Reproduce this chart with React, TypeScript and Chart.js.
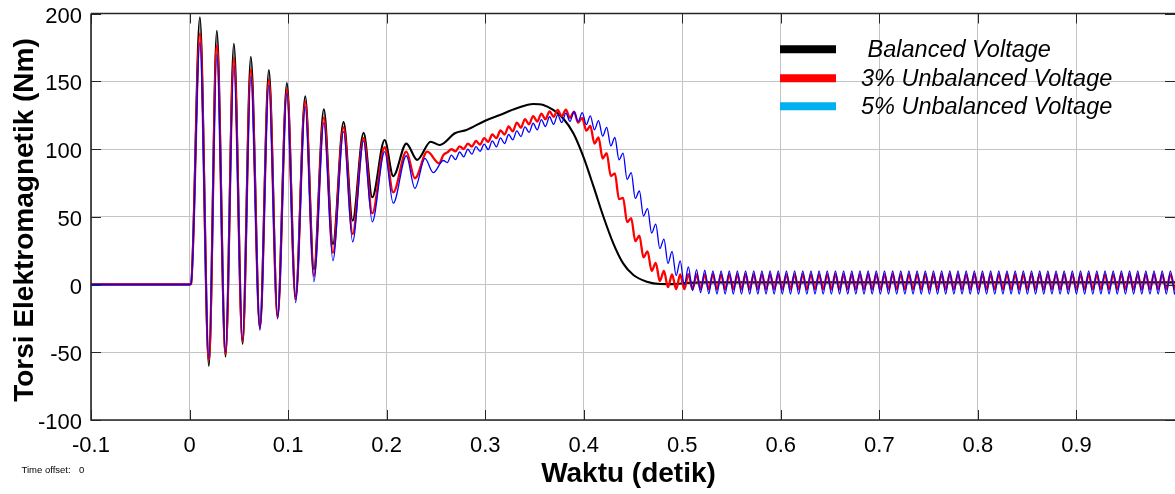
import React, { useEffect, useRef } from 'react';
import { Chart, registerables } from 'chart.js';

Chart.register(...registerables);

const FONT = "'Liberation Sans', Arial, Helvetica, sans-serif";

// Axis ticks
const X_TICK_VALUES = [-0.1, 0, 0.1, 0.2, 0.3, 0.4, 0.5, 0.6, 0.7, 0.8, 0.9, 1.0];
const X_TICK_LABELS = ['-0.1', '0', '0.1', '0.2', '0.3', '0.4', '0.5', '0.6', '0.7', '0.8', '0.9', ''];
const Y_TICK_VALUES = [-100, -50, 0, 50, 100, 150, 200];
const Y_TICK_LABELS = ['-100', '-50', '0', '50', '100', '150', '200'];

const X_TITLE = 'Waktu (detik)';
const Y_TITLE = 'Torsi Elektromagnetik (Nm)';
const TIME_OFFSET_LABEL = 'Time offset:';
const TIME_OFFSET_VALUE = '0';

const SERIES_NAMES = [' Balanced Voltage', '3% Unbalanced Voltage', '5% Unbalanced Voltage'];

// Balanced voltage (black): key points (time s, torque Nm)
const BLACK_T = [
  -0.1, 0, 0.0015, 0.0105, 0.0196, 0.0277, 0.0365, 0.045, 0.0538, 0.0622,
  0.0714, 0.0805, 0.0893, 0.0988, 0.1076, 0.1174, 0.1262, 0.1363, 0.1455, 0.1563,
  0.1655, 0.1766, 0.1854, 0.198, 0.2067, 0.22, 0.231, 0.2447, 0.254, 0.2693,
  0.281, 0.3, 0.315, 0.332, 0.3488, 0.359, 0.369, 0.379, 0.3895, 0.3996,
  0.41, 0.42, 0.43, 0.44, 0.4504, 0.464, 0.4775, 0.49, 0.505, 0.52, 1.0,
];
const BLACK_V = [
  0, 0, 0.5, 197.2, -60.1, 187.3, -53.3, 177.7, -43.9, 168.1,
  -31.5, 158.3, -23.2, 148.7, -9, 138.9, 11.2, 129.3, 29.9, 119.9,
  47.1, 112, 64.4, 106.6, 80, 104, 92, 105.4, 103, 111.6,
  114, 120.9, 125.1, 130, 133.2, 132.5, 128.8, 122.7, 111.6, 94.3,
  72.2, 50, 30.4, 15.6, 7, 2.1, 0.4, 0.3, 1.2, 1.6, 1.6,
];

// 3% unbalanced (red): start-up transient key points
const RED_T = [
  -0.1, 0, 0.0015, 0.0105, 0.0196, 0.0277, 0.0365, 0.045, 0.0538, 0.0622,
  0.0714, 0.0805, 0.0893, 0.0988, 0.1076, 0.1174, 0.1262, 0.1363, 0.1455, 0.1563,
  0.1655, 0.1766, 0.1854, 0.198, 0.2067, 0.22, 0.2287, 0.2412, 0.2534,
];
const RED_V = [
  0, 0, 0.5, 185.4, -55.7, 176.2, -50.8, 167.4, -42.2, 158.8,
  -32.5, 151.4, -24.5, 144, -11, 134.9, 6.3, 123.1, 23.5, 116,
  37.3, 108, 52.5, 101.3, 68, 98, 78.4, 98, 89.4,
];

// 5% unbalanced (blue): start-up transient key points
const BLUE_T = [
  -0.1, 0, 0.0015, 0.0105, 0.0196, 0.0277, 0.0365, 0.045, 0.0538, 0.0622,
  0.0714, 0.0805, 0.0893, 0.0988, 0.1076, 0.1174, 0.1262, 0.1363, 0.1455, 0.1563,
  0.1655, 0.1766, 0.1854, 0.198, 0.2067, 0.22, 0.2287, 0.2389, 0.2473,
];
const BLUE_V = [
  0, 0, 0.5, 178.7, -54.5, 169.9, -49.6, 161.3, -41, 153.6,
  -33.6, 147.2, -25.5, 141.1, -13.4, 131.2, 2.1, 119.4, 17.6, 112.8,
  31.4, 106, 46.3, 98, 60, 95, 71, 93.1, 82.5,
];

// Ripple / steady-state extremes (peaks and troughs) shared time stamps
const RIPPLE_T = [
  0.2575, 0.2616, 0.2658, 0.2699, 0.2741, 0.2782, 0.2824, 0.2865, 0.2907, 0.2948,
  0.2990, 0.3031, 0.3072, 0.3114, 0.3155, 0.3197, 0.3238, 0.3280, 0.3321, 0.3363,
  0.3404, 0.3445, 0.3487, 0.3528, 0.3570, 0.3611, 0.3653, 0.3694, 0.3736, 0.3777,
  0.3819, 0.3860, 0.3902, 0.3943, 0.3985, 0.4026, 0.4067, 0.4109, 0.4150, 0.4192,
  0.4233, 0.4275, 0.4316, 0.4358, 0.4399, 0.4440, 0.4482, 0.4523, 0.4565, 0.4606,
  0.4648, 0.4689, 0.4731, 0.4772, 0.4814, 0.4855, 0.4896, 0.4938, 0.4979, 0.5021,
  0.5062, 0.5104, 0.5145, 0.5186, 0.5228, 0.5269, 0.5311, 0.5352, 0.5394, 0.5435,
  0.5477, 0.5518, 0.5559, 0.5601, 0.5642, 0.5684, 0.5725, 0.5767, 0.5808, 0.5850,
  0.5891, 0.5932, 0.5974, 0.6015, 0.6057, 0.6098, 0.6140, 0.6181, 0.6223, 0.6264,
  0.6306, 0.6347, 0.6388, 0.6430, 0.6471, 0.6513, 0.6554, 0.6596, 0.6637, 0.6679,
  0.6720, 0.6761, 0.6803, 0.6844, 0.6886, 0.6927, 0.6969, 0.7010, 0.7052, 0.7093,
  0.7135, 0.7176, 0.7217, 0.7259, 0.7300, 0.7342, 0.7383, 0.7425, 0.7466, 0.7508,
  0.7549, 0.7590, 0.7632, 0.7673, 0.7715, 0.7756, 0.7798, 0.7839, 0.7881, 0.7922,
  0.7964, 0.8005, 0.8046, 0.8088, 0.8129, 0.8171, 0.8212, 0.8254, 0.8295, 0.8337,
  0.8378, 0.8419, 0.8461, 0.8502, 0.8544, 0.8585, 0.8627, 0.8668, 0.8710, 0.8751,
  0.8793, 0.8834, 0.8875, 0.8917, 0.8958, 0.9000, 0.9041, 0.9083, 0.9124, 0.9166,
  0.9207, 0.9248, 0.9290, 0.9331, 0.9373, 0.9414, 0.9456, 0.9497, 0.9539, 0.9580,
  0.9622, 0.9663, 0.9704, 0.9746, 0.9787, 0.9829, 0.9870, 0.9912, 0.9953, 0.9995,
];

const RED_RIPPLE = [
  95.5, 97.5, 99.8, 98.3, 102, 100, 104, 101.8, 105.9, 103.2,
  108, 105.3, 110.7, 108, 113.7, 110.7, 116.6, 113, 119.5, 115.7,
  122.1, 118.2, 124.3, 120.2, 126.1, 122, 127.8, 123.7, 128.8, 124.2,
  129, 123, 127.5, 119.5, 123, 113.5, 117, 104, 108.5, 93,
  97, 80, 82, 63, 64, 46, 49, 32, 36, 20,
  24.5, 10, 16, 2.5, 10, -2, 7.5, -3.5, 7.5, -3.5,
  7.6, -3.6, 7.5, -3.5, 7.5, -3.5, 7.6, -3.5, 7.5, -3.6,
  7.5, -3.5, 7.5, -3.5, 7.6, -3.5, 7.5, -3.5, 7.5, -3.6,
  7.5, -3.5, 7.6, -3.5, 7.5, -3.5, 7.5, -3.5, 7.6, -3.6,
  7.5, -3.5, 7.5, -3.5, 7.5, -3.5, 7.6, -3.5, 7.5, -3.5,
  7.5, -3.6, 7.5, -3.5, 7.6, -3.5, 7.5, -3.5, 7.5, -3.5,
  7.6, -3.5, 7.5, -3.6, 7.5, -3.5, 7.5, -3.5, 7.6, -3.5,
  7.5, -3.5, 7.5, -3.5, 7.6, -3.6, 7.5, -3.5, 7.5, -3.5,
  7.6, -3.5, 7.5, -3.5, 7.5, -3.6, 7.5, -3.5, 7.6, -3.5,
  7.5, -3.5, 7.5, -3.5, 7.6, -3.5, 7.5, -3.6, 7.5, -3.5,
  7.5, -3.5, 7.6, -3.5, 7.5, -3.5, 7.5, -3.5, 7.6, -3.6,
  7.5, -3.5, 7.5, -3.5, 7.5, -3.5, 7.6, -3.5, 7.5, -3.5,
  7.5, -3.6, 7.5, -3.5, 7.6, -3.5, 7.5, -3.5, 7.5, -3.5,
];

const BLUE_RIPPLE = [
  91.5, 90, 95.5, 92.2, 97.8, 94.2, 99.8, 96.2, 101.8, 98.2,
  103.6, 99.5, 106, 101.6, 108.2, 104, 110.7, 106.8, 113.4, 109.2,
  116.4, 112.2, 119, 114.1, 121.7, 116.6, 123.8, 118.2, 125.2, 119.5,
  126.5, 120.3, 127.5, 120.2, 126.8, 118, 124.5, 114.2, 121, 109.5,
  116, 102.3, 108.5, 92, 97, 77.5, 82.5, 63.5, 69, 50.5,
  56, 38, 44.5, 26.5, 33.5, 15.5, 24.5, 6.5, 17.5, -0.5,
  13, -4.5, 11, -6, 10.5, -6.8, 10, -7, 10, -7,
  10.1, -7, 10, -7.1, 10, -7, 10.1, -7, 10, -7,
  10, -7.1, 10, -7, 10.1, -7, 10, -7, 10, -7.1,
  10.1, -7, 10, -7, 10, -7.1, 10, -7, 10.1, -7,
  10, -7, 10, -7.1, 10.1, -7, 10, -7, 10, -7,
  10.1, -7.1, 10, -7, 10, -7, 10.1, -7, 10, -7.1,
  10, -7, 10.1, -7, 10, -7, 10, -7.1, 10.1, -7,
  10, -7, 10, -7, 10.1, -7.1, 10, -7, 10, -7,
  10.1, -7, 10, -7.1, 10, -7, 10.1, -7, 10, -7,
  10, -7.1, 10.1, -7, 10, -7, 10, -7, 10.1, -7.1,
  10, -7, 10, -7, 10.1, -7, 10, -7.1, 10, -7,
  10.1, -7, 10, -7, 10, -7.1, 10.1, -7, 10, -7,
];

const LINE_COLORS = ['#000000', '#ff0000', '#0000ff'];
const LEGEND_COLORS = ['#000000', '#ff0000', '#00b0f0'];

function toPoints(ts: number[], vs: number[]) {
  return ts.map((t, i) => ({ x: t, y: vs[i] }));
}

const framePlugin = {
  id: 'matlabFrame',
  afterDraw(chart: any) {
    const { ctx, chartArea: a, scales } = chart;
    ctx.save();
    // tick marks (inward)
    ctx.strokeStyle = '#262626';
    ctx.lineWidth = 1;
    const tl = 10;
    X_TICK_VALUES.forEach((v) => {
      const px = Math.round(scales.x.getPixelForValue(v)) + 0.5;
      ctx.beginPath();
      ctx.moveTo(px, a.bottom);
      ctx.lineTo(px, a.bottom - tl);
      ctx.moveTo(px, a.top);
      ctx.lineTo(px, a.top + tl);
      ctx.stroke();
    });
    Y_TICK_VALUES.forEach((v) => {
      const py = Math.round(scales.y.getPixelForValue(v)) + 0.5;
      ctx.beginPath();
      ctx.moveTo(a.left, py);
      ctx.lineTo(a.left + tl, py);
      ctx.moveTo(a.right, py);
      ctx.lineTo(a.right - tl, py);
      ctx.stroke();
    });
    // frame
    ctx.strokeStyle = '#262626';
    ctx.lineWidth = 1.6;
    ctx.beginPath();
    ctx.moveTo(a.left, a.top);
    ctx.lineTo(a.right, a.top);
    ctx.moveTo(a.left, a.top);
    ctx.lineTo(a.left, a.bottom);
    ctx.lineTo(a.right, a.bottom);
    ctx.stroke();
    ctx.restore();
  },
};

const textPlugin = {
  id: 'matlabTexts',
  afterDraw(chart: any) {
    const ctx = chart.ctx;
    ctx.save();
    ctx.fillStyle = '#000';
    // axis titles
    ctx.font = `bold 28px ${FONT}`;
    ctx.textAlign = 'center';
    ctx.textBaseline = 'alphabetic';
    ctx.fillText(X_TITLE, 628.5, 482);
    ctx.save();
    ctx.translate(32.5, 220);
    ctx.rotate(-Math.PI / 2);
    ctx.fillText(Y_TITLE, 0, 0);
    ctx.restore();
    // time offset
    ctx.font = `9.5px ${FONT}`;
    ctx.textAlign = 'left';
    ctx.fillText(TIME_OFFSET_LABEL, 21.5, 473.3);
    ctx.fillText(TIME_OFFSET_VALUE, 79, 473.3);
    // legend
    const ys = [49.3, 78.3, 106.3];
    SERIES_NAMES.forEach((name, i) => {
      ctx.strokeStyle = LEGEND_COLORS[i];
      ctx.lineWidth = 8;
      ctx.lineCap = 'butt';
      ctx.beginPath();
      ctx.moveTo(780, ys[i]);
      ctx.lineTo(836, ys[i]);
      ctx.stroke();
      ctx.fillStyle = '#000';
      ctx.font = `italic 23.5px ${FONT}`;
      ctx.textAlign = 'left';
      ctx.fillText(name, 861, ys[i] + 7.8);
    });
    ctx.restore();
  },
};

export default function App() {
  const canvasRef = useRef<HTMLCanvasElement | null>(null);

  useEffect(() => {
    const canvas = canvasRef.current;
    if (!canvas) return;
    const black = toPoints(BLACK_T, BLACK_V);
    const red = toPoints(RED_T, RED_V).concat(toPoints(RIPPLE_T, RED_RIPPLE));
    const blue = toPoints(BLUE_T, BLUE_V).concat(toPoints(RIPPLE_T, BLUE_RIPPLE));

    const chart = new Chart(canvas, {
      type: 'line',
      data: {
        datasets: [
          { label: SERIES_NAMES[2], data: blue, borderColor: LINE_COLORS[2], borderWidth: 1.3, order: 0 },
          { label: SERIES_NAMES[1], data: red, borderColor: LINE_COLORS[1], borderWidth: 2.3, order: 1 },
          { label: SERIES_NAMES[0], data: black, borderColor: LINE_COLORS[0], borderWidth: 2.1, order: 2 },
        ],
      },
      options: {
        responsive: false,
        animation: false,
        devicePixelRatio: 1,
        layout: { padding: { top: 13.5, right: 0, left: 0, bottom: 0 } },
        plugins: { legend: { display: false }, tooltip: { enabled: false } },
        elements: {
          point: { radius: 0 },
          line: { cubicInterpolationMode: 'monotone', borderJoinStyle: 'round', borderCapStyle: 'round', fill: false },
        },
        scales: {
          x: {
            type: 'linear',
            min: -0.1,
            max: 1.0,
            afterFit: (s: any) => {
              s.height = 74;
              s.paddingLeft = 0;
              s.paddingRight = 0;
              s.paddingTop = 0;
              s.paddingBottom = 0;
            },
            afterBuildTicks: (s: any) => { s.ticks = X_TICK_VALUES.map((v) => ({ value: v })); },
            ticks: {
              autoSkip: false,
              maxRotation: 0,
              minRotation: 0,
              padding: 13,
              color: '#000',
              font: { family: FONT, size: 22 },
              callback: (_v: any, i: number) => X_TICK_LABELS[i],
            },
            grid: { color: '#c4c4c4', lineWidth: 1, drawTicks: false },
            border: { display: false },
          },
          y: {
            type: 'linear',
            min: -100,
            max: 200,
            afterFit: (s: any) => {
              s.width = 91;
              s.paddingLeft = 0;
              s.paddingRight = 0;
              s.paddingTop = 0;
              s.paddingBottom = 0;
            },
            afterBuildTicks: (s: any) => { s.ticks = Y_TICK_VALUES.map((v) => ({ value: v })); },
            ticks: {
              autoSkip: false,
              padding: 9,
              labelOffset: 3,
              color: '#000',
              font: { family: FONT, size: 22 },
              callback: (_v: any, i: number) => Y_TICK_LABELS[i],
            },
            grid: { color: '#c4c4c4', lineWidth: 1, drawTicks: false },
            border: { display: false },
          },
        },
      },
      plugins: [framePlugin, textPlugin],
    } as any);

    return () => chart.destroy();
  }, []);

  return (
    <div style={{ position: 'absolute', left: 0, top: 0, width: 1175, height: 494, background: '#fff' }}>
      <canvas ref={canvasRef} width={1175} height={494} style={{ display: 'block' }} />
    </div>
  );
}
